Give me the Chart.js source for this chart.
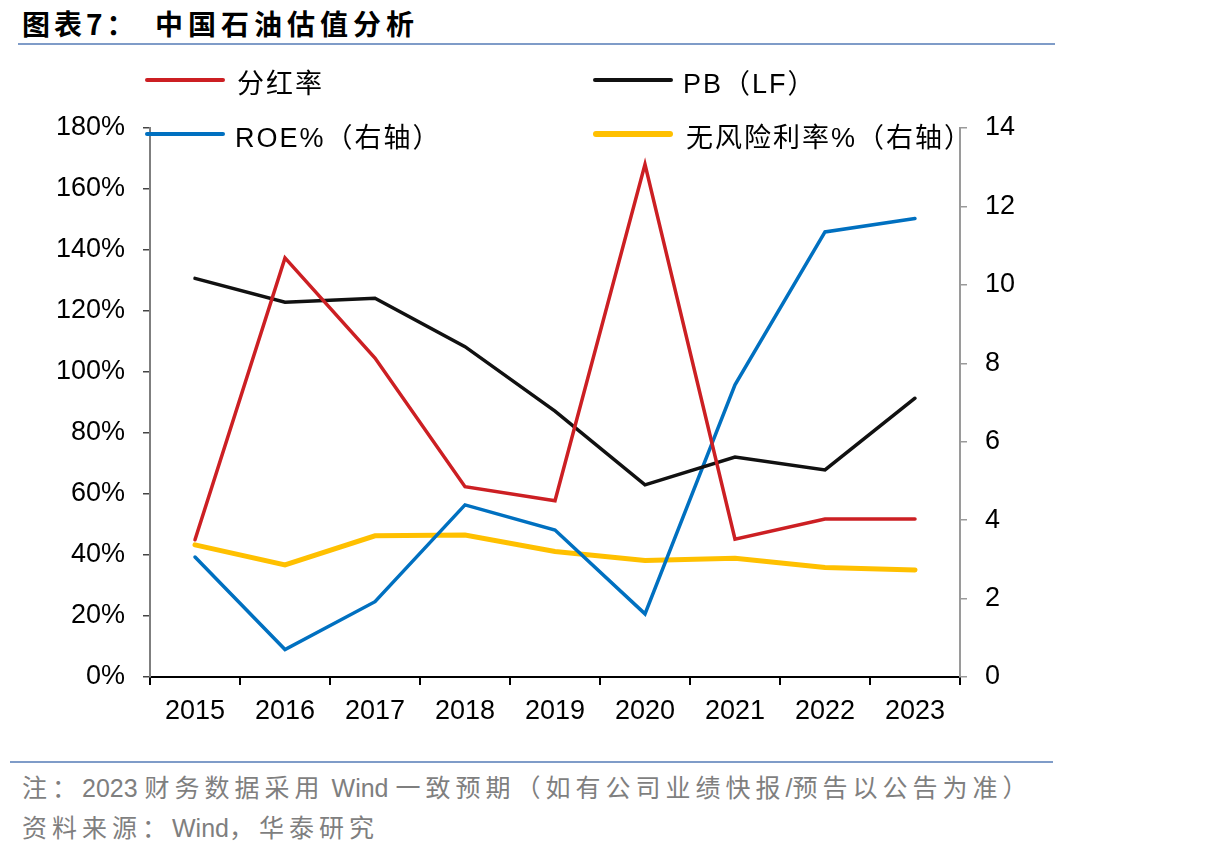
<!DOCTYPE html>
<html>
<head>
<meta charset="utf-8">
<script src="https://cdn.jsdelivr.net/npm/chart.js@4/dist/chart.umd.min.js"></script>
<style>
  html, body { margin: 0; padding: 0; background: #fff; }
  #page { position: relative; width: 1206px; height: 858px; overflow: hidden; font-family: "Liberation Sans", "Noto Sans CJK SC", sans-serif; }
  .title { position: absolute; top: 3px; font-family: "Noto Sans CJK SC", sans-serif; font-weight: bold; font-size: 28px; letter-spacing: 5px; color: #000; white-space: pre; }
  .rule { position: absolute; height: 2px; background: #7f9cc8; }
  #chartWrap { position: absolute; left: 0; top: 0; width: 1060px; height: 760px; }
  .leg { position: absolute; height: 30px; }
  .leg .swatch { position: absolute; left: 0; width: 80px; border-radius: 3px; }
  .leg .txt { position: absolute; top: -18px; font-size: 27px; letter-spacing: 2px; color: #000; white-space: nowrap; }
  .note { position: absolute; left: 22px; font-family: "Liberation Sans", "Noto Sans CJK SC", sans-serif; font-size: 25px; letter-spacing: 5px; color: #7f7f7f; white-space: nowrap; }
  .note .lat { letter-spacing: 0; }
</style>
</head>
<body>
<div id="page">
  <div class="title" style="left:22px; letter-spacing:4px;">图表7：</div>
  <div class="title" style="left:155px;">中国石油估值分析</div>
  <div class="rule" style="left:18px; top:43px; width:1037px;"></div>
  <div id="chartWrap"><canvas id="chart" width="1060" height="760"></canvas></div>
  <div id="legend"></div>
  <div class="rule" style="left:10px; top:761px; width:1043px;"></div>
  <div class="note" style="top:768px;">注：<span class="lat">2023 </span>财务数据采用<span class="lat"> Wind </span>一致预期（如有公司业绩快报<span class="lat">/</span>预告以公告为准）</div>
  <div class="note" style="top:808px;">资料来源：<span class="lat">Wind</span>，华泰研究</div>
</div>
<script>
const years = ['2015', '2016', '2017', '2018', '2019', '2020', '2021', '2022', '2023'];

// left axis (%)
const payoutRatio = [45.0, 137.4, 104.6, 62.4, 57.8, 168.1, 45.2, 51.8, 51.8];
const pbLF = [130.7, 122.9, 124.2, 108.3, 87.2, 63.0, 72.1, 67.9, 91.4];

// right axis
const roe = [3.06, 0.70, 1.92, 4.39, 3.75, 1.61, 7.45, 11.35, 11.69];
const riskFree = [3.37, 2.86, 3.60, 3.62, 3.20, 2.97, 3.03, 2.79, 2.73];

const leftTicks = { min: 0, max: 180, step: 20 };
const rightTicks = { min: 0, max: 14, step: 2 };

const seriesNames = ['分红率', 'PB（LF）', 'ROE%（右轴）', '无风险利率%（右轴）'];
const seriesColors = ['#cc1f23', '#111111', '#0070c0', '#ffc000'];

// html legend sits over the top of the plot, like the original
const legendSpots = [
    { x: 145, y: 80, w: 4, tx: 237 },
    { x: 593, y: 80, w: 4, tx: 683 },
    { x: 145, y: 134, w: 4, tx: 235 },
    { x: 593, y: 134, w: 6, tx: 686 }
];
const legendEl = document.getElementById('legend');
seriesNames.forEach((name, i) => {
    const s = legendSpots[i];
    const item = document.createElement('div');
    item.className = 'leg';
    item.style.left = s.x + 'px';
    item.style.top = s.y + 'px';
    item.innerHTML = `<div class="swatch" style="top:${-s.w / 2}px;height:${s.w}px;background:${seriesColors[i]}"></div>
        <div class="txt" style="left:${s.tx - s.x}px">${name}</div>`;
    legendEl.appendChild(item);
});

const tickFont = { family: '"Liberation Sans", Arial, sans-serif', size: 27 };

const ctx = document.getElementById('chart').getContext('2d');
new Chart(ctx, {
    type: 'line',
    data: {
        labels: years,
        datasets: [
            { label: seriesNames[0], data: payoutRatio, yAxisID: 'yL', borderColor: seriesColors[0], borderWidth: 3.5 },
            { label: seriesNames[1], data: pbLF, yAxisID: 'yL', borderColor: seriesColors[1], borderWidth: 3.5 },
            { label: seriesNames[2], data: roe, yAxisID: 'yR', borderColor: seriesColors[2], borderWidth: 3.5 },
            { label: seriesNames[3], data: riskFree, yAxisID: 'yR', borderColor: seriesColors[3], borderWidth: 5 }
        ].map(d => Object.assign(d, { fill: false, pointRadius: 0, tension: 0, borderCapStyle: 'round', clip: false }))
    },
    options: {
        responsive: false,
        animation: false,
        layout: { padding: { top: 128, left: 0, right: 0, bottom: 0 } },
        plugins: {
            legend: { display: false },
            tooltip: { enabled: false }
        },
        scales: {
            x: {
                offset: true,
                grid: { offset: true, drawOnChartArea: false, drawTicks: true, tickLength: 8, color: '#000', lineWidth: 2 },
                border: { color: '#000', width: 2 },
                ticks: { color: '#000', font: tickFont, padding: 10, maxRotation: 0 },
                afterFit: (scale) => { scale.height = 83; }
            },
            yL: {
                position: 'left',
                min: leftTicks.min,
                max: leftTicks.max,
                grid: { drawOnChartArea: false, tickLength: 7, color: '#444', lineWidth: 1.5 },
                border: { color: '#7f7f7f', width: 2 },
                ticks: { stepSize: leftTicks.step, color: '#000', font: tickFont, padding: 18, callback: v => v + '%' },
                afterFit: (scale) => { scale.width = 150; }
            },
            yR: {
                position: 'right',
                min: rightTicks.min,
                max: rightTicks.max,
                grid: { drawOnChartArea: false, tickLength: 7, color: '#9a9a9a', lineWidth: 1.5 },
                border: { color: '#9a9a9a', width: 2 },
                ticks: { stepSize: rightTicks.step, color: '#000', font: tickFont, padding: 18 },
                afterFit: (scale) => { scale.width = 100; }
            }
        }
    }
});
</script>
</body>
</html>
